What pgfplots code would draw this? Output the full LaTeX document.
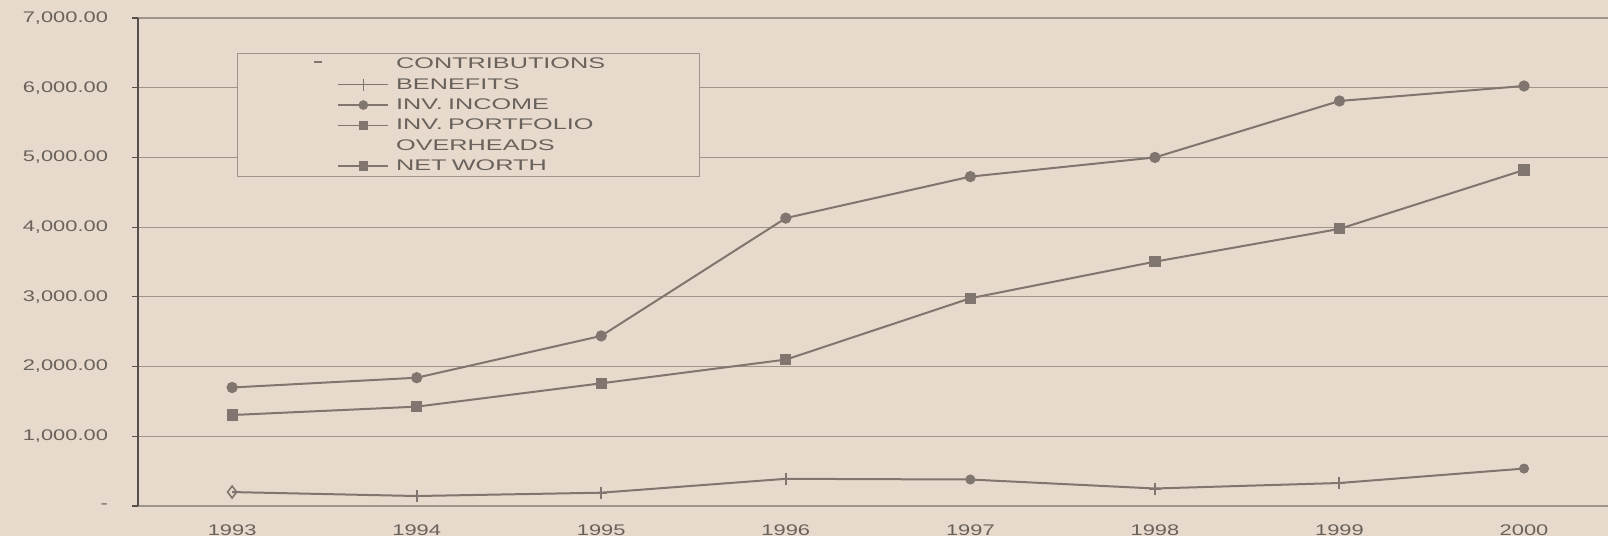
\documentclass[border=0pt]{standalone}
\usepackage{fontspec}
\setmainfont{Liberation Sans}[FakeStretch=1.42]
\newfontfamily\legfont{Liberation Sans}[FakeStretch=1.64]
\usepackage{pgfplots}
\pgfplotsset{compat=1.18}
\definecolor{paper}{RGB}{231,217,203}
\definecolor{linec}{RGB}{128,118,111}
\definecolor{gridc}{RGB}{158,148,140}
\definecolor{txtc}{RGB}{105,98,92}
\definecolor{axisc}{RGB}{85,80,76}
\pgfplotsset{myleg/.style={legend image code/.code={%
  \path (0pt,0pt) (77pt,0pt);
  \draw[mark repeat=2,mark phase=2,##1] plot coordinates {(49pt,0pt) (61.5pt,0pt) (74pt,0pt)};}}}
\begin{document}
\begin{tikzpicture}
\fill[paper] (-69pt,-15pt) rectangle (735pt,253pt);
\begin{axis}[
  at={(0pt,0pt)}, anchor=south west,
  scale only axis, width=735pt, height=244pt,
  xmin=1992.49, xmax=2000.455, ymin=0, ymax=7000,
  axis lines=left,
  axis line style={-},
  x axis line style={gridc, line width=0.6pt},
  y axis line style={axisc, line width=0.8pt},
  xtick={1993,1994,1995,1996,1997,1998,1999,2000},
  xticklabels={1993,1994,1995,1996,1997,1998,1999,2000},
  ytick={0,1000,2000,3000,4000,5000,6000,7000},
  yticklabels={-,{1,000.00},{2,000.00},{3,000.00},{4,000.00},{5,000.00},{6,000.00},{7,000.00}},
  ymajorgrids,
  major grid style={gridc, line width=0.6pt},
  tick align=outside,
  major tick length=3pt,
  xtick style={draw=none},
  ytick style={axisc, line width=0.6pt},
  tick label style={font=\fontsize{7.7}{9}\selectfont, text=txtc},
  yticklabel style={anchor=east, xshift=-8.5pt},
  xticklabel style={anchor=north, yshift=-3pt},
  legend style={at={(0.0673,0.928)}, anchor=north west, draw=gridc, fill=paper,
    line width=0.6pt, inner xsep=1pt, inner ysep=1pt, row sep=1.7pt,
    font=\legfont\fontsize{7.7}{9}\selectfont, text=txtc,
    nodes={text width=150pt, inner sep=0.5pt, text height=6pt, text depth=1.5pt, align=left}},
  legend cell align=left,
  clip=false,
]
% data series
\addplot[linec, line width=1pt, mark=*, mark size=2.3pt, forget plot] coordinates {
  (1993,1700) (1994,1840) (1995,2440) (1996,4130) (1997,4725) (1998,5000) (1999,5810) (2000,6025)};
\addplot[linec, line width=1pt, mark=square*, mark size=2.3pt, forget plot] coordinates {
  (1993,1305) (1994,1425) (1995,1760) (1996,2100) (1997,2980) (1998,3505) (1999,3975) (2000,4820)};
\addplot[linec, line width=1pt, forget plot] coordinates {
  (1993,200) (1994,143) (1995,191) (1996,390) (1997,380) (1998,251) (1999,330) (2000,537)};
\addplot[linec, only marks, mark=+, mark size=3pt, mark options={line width=1pt}, forget plot] coordinates {
  (1994,143) (1995,191) (1996,390) (1998,251) (1999,330)};
\addplot[linec, only marks, mark=*, mark size=2.3pt, forget plot] coordinates {
  (1997,380) (2000,537)};
\addplot[linec, only marks, mark=diamond, mark size=3pt, mark options={fill=paper, line width=0.8pt}, forget plot] coordinates {
  (1993,200)};
% legend
\addlegendimage{legend image code/.code={\path (0pt,0pt) (77pt,0pt); \draw[linec, line width=1.2pt] (37pt,1pt) -- (41pt,1pt);}}
\addlegendentry{CONTRIBUTIONS}
\addlegendimage{myleg, linec, line width=0.8pt, mark=|, mark size=3pt}
\addlegendentry{BENEFITS}
\addlegendimage{myleg, linec, line width=0.8pt, mark=*, mark size=2pt}
\addlegendentry{INV. INCOME}
\addlegendimage{myleg, linec, line width=0.8pt, mark=square*, mark size=2pt}
\addlegendentry{INV. PORTFOLIO}
\addlegendimage{legend image code/.code={\path (0pt,0pt) (77pt,0pt);}}
\addlegendentry{OVERHEADS}
\addlegendimage{myleg, linec, line width=0.8pt, mark=square*, mark size=2pt}
\addlegendentry{NET WORTH}
\end{axis}
\pgfresetboundingbox
\useasboundingbox (-69pt,-15pt) rectangle (735pt,253pt);
\end{tikzpicture}
\end{document}
